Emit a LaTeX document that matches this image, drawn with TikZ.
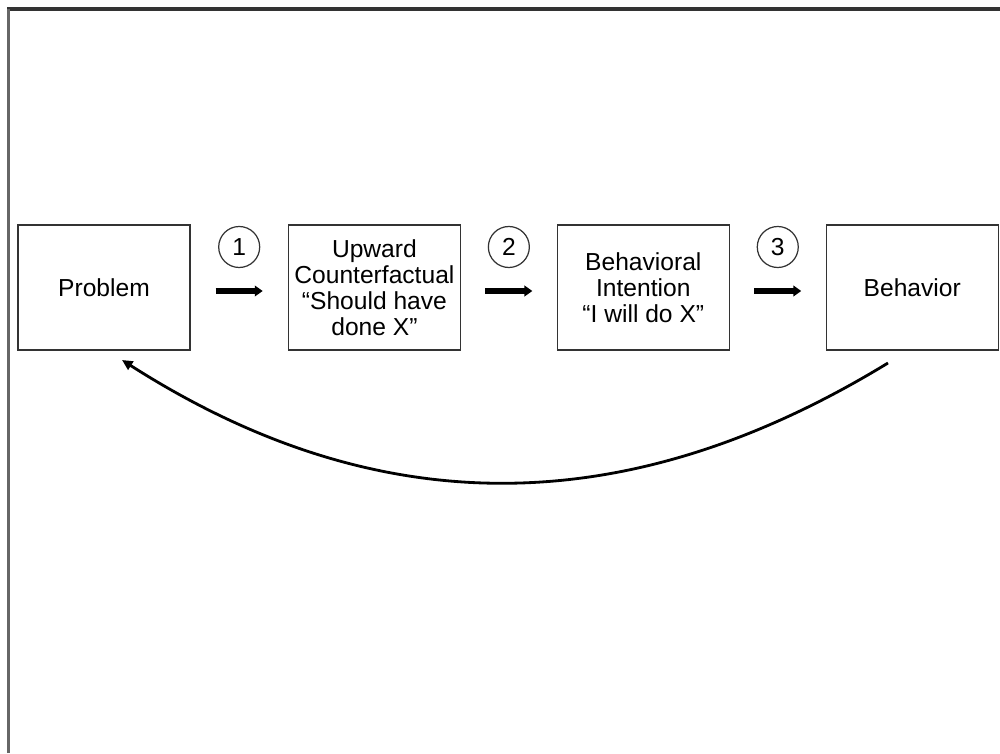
\documentclass[tikz,border=0pt]{standalone}
\usepackage{fontspec}
\setmainfont{Liberation Sans}
\usetikzlibrary{arrows.meta,positioning,calc}

\begin{document}
\begin{tikzpicture}[>={Triangle[length=4.5pt,width=6pt]},
	box/.style={draw=black!80,line width=0.8pt,minimum width=3.44cm,minimum height=2.5cm,
		inner sep=0pt,align=center,font=\fontsize{14}{14.8}\selectfont},
	num/.style={draw=black!80,circle,line width=0.7pt,minimum size=0.82cm,inner sep=0pt,
		font=\fontsize{14}{14}\selectfont},
	flow/.style={->,line width=3pt},
	loop/.style={-{Triangle[length=6pt,width=5.5pt]},line width=1.6pt}]
	\useasboundingbox (0,0) rectangle (20,15.06);
	% frame (top and left only)
	\draw[line width=2pt,black!80] (0.15,14.88) -- (20,14.88);
	\draw[line width=1.6pt,black!60] (0.17,0) -- (0.17,14.88);
	
	\node[box] (problem) at (2.08,9.31) {Problem};
	\node[box,right=1.94cm of problem] (counter) {Upward\\Counterfactual\\“Should have\\done X”};
	\node[box,right=1.91cm of counter] (intention) {Behavioral\\Intention\\“I will do X”};
	\node[box,right=1.91cm of intention] (behavior) {Behavior};
	
	\foreach \a/\b/\n in {problem/counter/1,counter/intention/2,intention/behavior/3}{
		\node[num] (c\n) at ($(\a.east)!0.5!(\b.west)+(0,0.81)$) {\n};
		\draw[flow] ($(c\n)+(-0.47,-0.88)$) -- ($(c\n)+(0.47,-0.88)$);
	}
	
	\coordinate (loopstart) at (17.76,7.80);
	\coordinate (loopend) at (2.44,7.86);
	\draw[loop] (loopstart) .. controls (12.52,4.60) and (7.54,4.60) .. (loopend);
\end{tikzpicture}
\end{document}
